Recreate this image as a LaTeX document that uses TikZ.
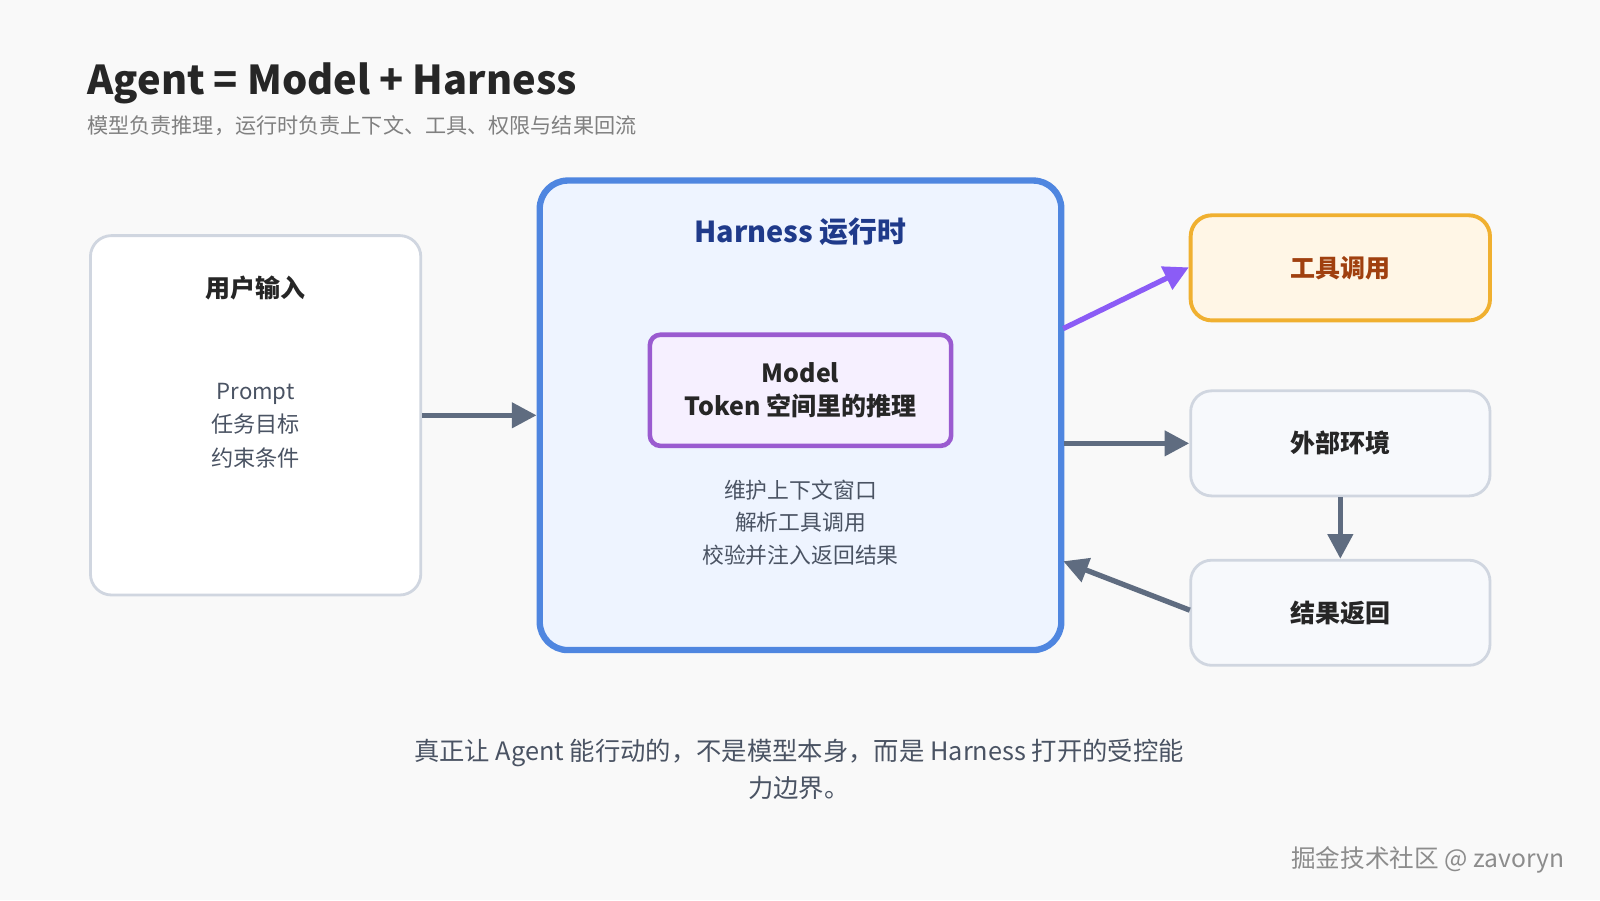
\documentclass[tikz,border=0pt]{standalone}
\usepackage{fontspec}
\setmainfont{Noto Sans CJK SC}
\usetikzlibrary{arrows.meta, positioning}
\definecolor{bg}{HTML}{F9F9F9}
\definecolor{edge}{HTML}{5F6C80}
\definecolor{hblue}{HTML}{4F86E0}
\definecolor{hfill}{HTML}{EEF4FF}
\definecolor{hdark}{HTML}{1F3A8A}
\definecolor{mpurple}{HTML}{9A5BD0}
\definecolor{mfill}{HTML}{F6F0FF}
\definecolor{tborder}{HTML}{F0B030}
\definecolor{tfill}{HTML}{FFF6E6}
\definecolor{tdark}{HTML}{A0400F}
\definecolor{sfill}{HTML}{F7F9FC}
\definecolor{sborder}{HTML}{D0D6E0}
\definecolor{txt}{HTML}{4A5363}
\definecolor{arrowpurple}{HTML}{8B5CF6}
\begin{document}
\begin{tikzpicture}
    [
      x=0.0102cm, y=-0.0102cm,
      box/.style={draw=sborder, line width=0.8pt, rounded corners=6pt, inner sep=0pt},
      body/.style={font=\fontsize{6.3}{10}\selectfont, text=txt, align=center},
      head/.style={font=\fontsize{7.1}{9}\selectfont\bfseries, text=black!85},
      flow/.style={line width=1.5pt, draw=edge, -{Triangle[length=7pt,width=7pt]}}
    ]
    % background
    \fill[bg] (0,0) rectangle (1568,882);
    \useasboundingbox (0,0) rectangle (1568,882);
    % title
    \node[anchor=west, inner xsep=0pt, font=\fontsize{11.3}{13}\selectfont\bfseries, text=black!85] (title) at (85,82) {Agent = Model + Harness};
    \node[anchor=west, inner xsep=0pt, font=\fontsize{6}{8}\selectfont, text=black!50] (subtitle) at (85,123) {模型负责推理，运行时负责上下文、工具、权限与结果回流};
    % user input
    \node[box, fill=white, minimum width=3.30cm, minimum height=3.59cm] (user) at (250.5,407) {};
    \node[head] (usert) at (250.5,282) {用户输入};
    \node[body, font=\fontsize{6.3}{9.5}\selectfont] (usertext) at (250.5,417) {Prompt\\任务目标\\约束条件};
    % harness
    \node[draw=hblue, fill=hfill, line width=1.8pt, rounded corners=8pt, minimum width=5.21cm, minimum height=4.69cm] (harness) at (784.5,407) {};
    \node[font=\fontsize{8.2}{10}\selectfont\bfseries, text=hdark] (harnesst) at (784.5,227) {Harness 运行时};
    \node[draw=mpurple, fill=mfill, line width=1.3pt, rounded corners=3pt, minimum width=3.01cm, minimum height=1.11cm, align=center, font=\fontsize{7.1}{9.5}\selectfont\bfseries, text=black!85] (model) at (784.5,382.5) {Model\\Token 空间里的推理};
    \node[body, font=\fontsize{6.2}{9.2}\selectfont] (harnesstext) at (784.5,512) {维护上下文窗口\\解析工具调用\\校验并注入返回结果};
    % right side
    \node[box, draw=tborder, fill=tfill, line width=1.1pt, minimum width=2.99cm, minimum height=1.05cm, font=\fontsize{7.1}{9}\selectfont\bfseries, text=tdark] (tool) at (1313.5,262.5) {工具调用};
    \node[box, fill=sfill, minimum width=2.99cm, minimum height=1.05cm, head] (env) at (1313.5,434.5) {外部环境};
    \node[box, fill=sfill, minimum width=2.99cm, minimum height=1.05cm, head] (result) at (1313.5,600.5) {结果返回};
    % connectors
    \coordinate (hout1) at (1042,322);
    \coordinate (tin) at (1165,262);
    \coordinate (hin2) at (1042,550);
    \coordinate (rout) at (1166,598);
    \draw[flow] (user.east) -- (harness.west);
    \draw[flow, draw=arrowpurple] (hout1) -- (tin);
    \draw[flow] (harness.east |- env.west) -- (env.west);
    \draw[flow] (env.south) -- (result.north);
    \draw[flow] (rout) -- (hin2);
    % footer
    \node[body, font=\fontsize{7.2}{10.3}\selectfont] (note) at (783,754) {真正让 Agent 能行动的，不是模型本身，而是 Harness 打开的受控能\\力边界。};
    \node[anchor=east, font=\fontsize{7}{9}\selectfont, text=black!45] (mark) at (1545,843) {掘金技术社区 @ zavoryn};
\end{tikzpicture}
\end{document}
